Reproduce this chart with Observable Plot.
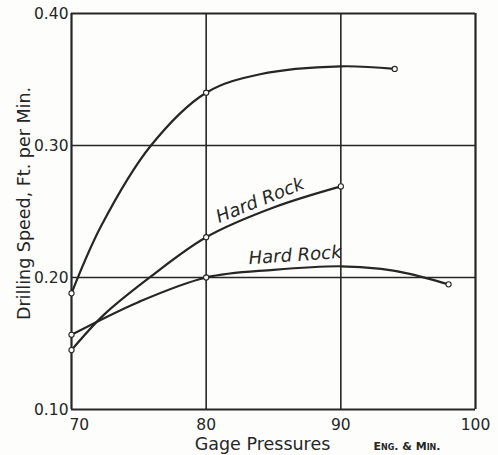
<!DOCTYPE html>
<html><head><meta charset="utf-8">
<script src="https://cdn.jsdelivr.net/npm/d3@7"></script>
<script src="https://cdn.jsdelivr.net/npm/@observablehq/plot@0.6"></script>
<style>
body{margin:0;background:#fdfdfc;}
#chart svg{display:block;background:#fdfdfc;}
</style>
</head><body><div id="chart"></div>
<script>
// Axis ticks
const xTicks = [70, 80, 90, 100];
const xTickLabels = ["70", "80", "90", "100"];
const yTicks = [0.10, 0.20, 0.30, 0.40];
const yTickLabels = ["0.10", "0.20", "0.30", "0.40"];

// Curve traces (pressure, speed)
const topPressure = [70, 72.2, 75.9, 80, 84, 90, 94];
const topSpeed    = [0.188, 0.239, 0.300, 0.340, 0.354, 0.360, 0.358];
const hr1Pressure = [70, 72.4, 75.8, 80, 85, 90];
const hr1Speed    = [0.145, 0.1717, 0.200, 0.2305, 0.253, 0.269];
const hr2Pressure = [70, 75, 80, 85, 90, 93, 95.2, 98];
const hr2Speed    = [0.1566, 0.1815, 0.200, 0.2058, 0.2085, 0.2065, 0.2026, 0.1948];

// Plotted data points (open circles)
const topPtsP = [70, 80, 94];
const topPtsS = [0.188, 0.340, 0.358];
const hr1PtsP = [70, 80, 90];
const hr1PtsS = [0.145, 0.2305, 0.269];
const hr2PtsP = [70, 80, 98];
const hr2PtsS = [0.1566, 0.200, 0.1948];

// Curve labels
const labelText = ["Hard Rock", "Hard Rock"];
const labelP = [84.0, 86.6];
const labelS = [0.2585, 0.2168];
const labelRot = [-22, -4];

const ink = "#262626";
const font = "DejaVu Sans";

const zip = (xs, ys, s) => xs.map((x, i) => ({x, y: ys[i], s}));
const traces = [
  ...zip(topPressure, topSpeed, "top"),
  ...zip(hr1Pressure, hr1Speed, "hr1"),
  ...zip(hr2Pressure, hr2Speed, "hr2")
];
const points = [
  ...zip(topPtsP, topPtsS, "top"),
  ...zip(hr1PtsP, hr1PtsS, "hr1"),
  ...zip(hr2PtsP, hr2PtsS, "hr2")
];
const labels = labelText.map((t, i) => ({t, x: labelP[i], y: labelS[i], r: labelRot[i]}));

const chart = Plot.plot({
  width: 498,
  height: 455,
  marginLeft: 71,
  marginRight: 23,
  marginTop: 13,
  marginBottom: 46,
  style: {fontFamily: font, color: ink, background: "#fdfdfc", overflow: "visible"},
  x: {domain: [70, 100], axis: null},
  y: {domain: [0.10, 0.40], axis: null},
  marks: [
    Plot.ruleX(xTicks.slice(1, -1), {stroke: ink, strokeWidth: 1.6}),
    Plot.ruleY(yTicks.slice(1, -1), {stroke: ink, strokeWidth: 1.6}),
    Plot.ruleX([xTicks[0], xTicks[xTicks.length - 1]], {stroke: ink, strokeWidth: 2.2}),
    Plot.ruleY([yTicks[0], yTicks[yTicks.length - 1]], {stroke: ink, strokeWidth: 2.2}),
    Plot.line(traces, {x: "x", y: "y", z: "s", curve: "catmull-rom", stroke: ink, strokeWidth: 2.2}),
    Plot.dot(points, {x: "x", y: "y", r: 2.6, fill: "#fdfdfc", stroke: ink, strokeWidth: 1.1}),
    Plot.text(labels, {x: "x", y: "y", text: "t", rotate: "r", fontStyle: "italic", fontSize: 18, fill: ink}),
    // y tick labels
    Plot.text(yTicks, {x: () => 70, y: d => d, text: (d, i) => yTickLabels[i], textAnchor: "end", dx: -3, dy: 1, fontSize: 15.5, fill: ink}),
    // x tick labels
    Plot.text(xTicks.slice(0, 1), {x: d => d, frameAnchor: "bottom", text: (d, i) => xTickLabels[i], textAnchor: "start", lineAnchor: "middle", dx: -2, dy: 16, fontSize: 15.5, fill: ink}),
    Plot.text(xTicks.slice(1), {x: d => d, frameAnchor: "bottom", text: (d, i) => xTickLabels[i + 1], textAnchor: "middle", lineAnchor: "middle", dx: 0, dy: 16, fontSize: 15.5, fill: ink}),
    // axis titles
    Plot.text(["Gage Pressures"], {frameAnchor: "bottom", textAnchor: "middle", lineAnchor: "middle", dx: -11, dy: 35, fontSize: 17.5, fill: ink}),
    Plot.text(["Eng. & Min."], {frameAnchor: "bottom-right", lineAnchor: "middle", dx: -35, dy: 37, fontSize: 11, fontWeight: "bold", fontVariant: "small-caps", fill: ink, textAnchor: "end"}),
    Plot.text(["Drilling Speed, Ft. per Min."], {frameAnchor: "left", rotate: -90, textAnchor: "middle", lineAnchor: "middle", dx: -47, dy: -8, fontSize: 17.5, fill: ink})
  ]
});
document.getElementById("chart").appendChild(chart);
</script>
</body></html>
